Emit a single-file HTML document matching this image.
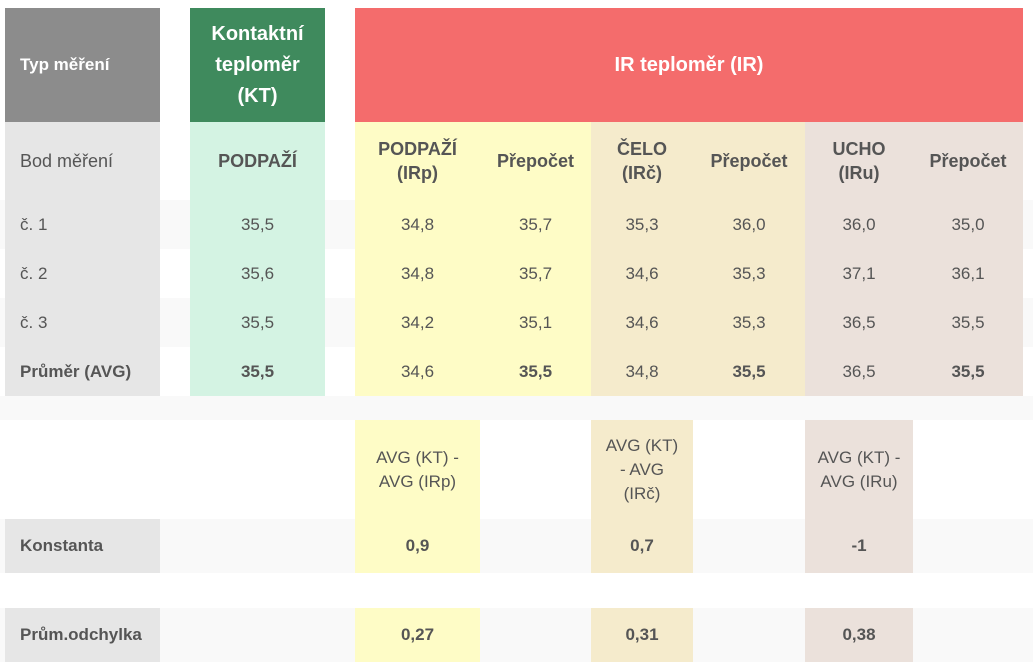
<!DOCTYPE html>
<html><head><meta charset="utf-8"><style>
body{margin:0;width:1033px;height:672px;background:#fff;font-family:"Liberation Sans",sans-serif;color:#555;position:relative;overflow:hidden}
div.c{position:absolute;display:flex;align-items:center;justify-content:center;text-align:center;font-size:17px;line-height:24px;box-sizing:border-box}
.b{font-weight:bold}
.l{justify-content:flex-start!important;text-align:left!important;padding-left:15px}
.s{position:absolute;left:0;width:1033px;background:#f9f9f9}
</style></head><body>
<div class="s" style="top:200px;height:49px"></div>
<div class="s" style="top:298px;height:49px"></div>
<div class="s" style="top:396px;height:24px"></div>
<div class="s" style="top:519px;height:54px"></div>
<div class="s" style="top:608px;height:54px"></div>

<div class="c b l" style="left:5px;top:8px;width:155px;height:114px;background:#8c8c8c;color:#fff;font-size:17px">Typ měření</div>
<div class="c b" style="left:190px;top:8px;width:135px;height:114px;background:#3f8a5d;color:#fff;font-size:20px;line-height:31px">Kontaktní<br>teploměr<br>(KT)</div>
<div class="c b" style="left:355px;top:8px;width:668px;height:114px;background:#f46c6c;color:#fff;font-size:20px">IR teploměr (IR)</div>

<div class="c" style="left:5px;top:122px;width:155px;height:274px;background:#e6e6e6"></div>
<div class="c" style="left:190px;top:122px;width:135px;height:274px;background:#d4f3e3"></div>
<div class="c" style="left:355px;top:122px;width:236px;height:274px;background:#fefcc6"></div>
<div class="c" style="left:591px;top:122px;width:214px;height:274px;background:#f5ebcc"></div>
<div class="c" style="left:805px;top:122px;width:218px;height:274px;background:#ebe1db"></div>

<div class="c l" style="left:5px;top:122px;width:155px;height:78px;font-size:18px">Bod měření</div>
<div class="c b" style="left:190px;top:122px;width:135px;height:78px;font-size:18px">PODPAŽÍ</div>
<div class="c b" style="left:355px;top:122px;width:125px;height:78px;font-size:18px">PODPAŽÍ<br>(IRp)</div>
<div class="c b" style="left:480px;top:122px;width:111px;height:78px;font-size:18px">Přepočet</div>
<div class="c b" style="left:591px;top:122px;width:102px;height:78px;font-size:18px">ČELO<br>(IRč)</div>
<div class="c b" style="left:693px;top:122px;width:112px;height:78px;font-size:18px">Přepočet</div>
<div class="c b" style="left:805px;top:122px;width:108px;height:78px;font-size:18px">UCHO<br>(IRu)</div>
<div class="c b" style="left:913px;top:122px;width:110px;height:78px;font-size:18px">Přepočet</div>

<div class="c l" style="left:5px;top:200px;width:155px;height:49px">č. 1</div>
<div class="c" style="left:190px;top:200px;width:135px;height:49px">35,5</div>
<div class="c" style="left:355px;top:200px;width:125px;height:49px">34,8</div>
<div class="c" style="left:480px;top:200px;width:111px;height:49px">35,7</div>
<div class="c" style="left:591px;top:200px;width:102px;height:49px">35,3</div>
<div class="c" style="left:693px;top:200px;width:112px;height:49px">36,0</div>
<div class="c" style="left:805px;top:200px;width:108px;height:49px">36,0</div>
<div class="c" style="left:913px;top:200px;width:110px;height:49px">35,0</div>

<div class="c l" style="left:5px;top:249px;width:155px;height:49px">č. 2</div>
<div class="c" style="left:190px;top:249px;width:135px;height:49px">35,6</div>
<div class="c" style="left:355px;top:249px;width:125px;height:49px">34,8</div>
<div class="c" style="left:480px;top:249px;width:111px;height:49px">35,7</div>
<div class="c" style="left:591px;top:249px;width:102px;height:49px">34,6</div>
<div class="c" style="left:693px;top:249px;width:112px;height:49px">35,3</div>
<div class="c" style="left:805px;top:249px;width:108px;height:49px">37,1</div>
<div class="c" style="left:913px;top:249px;width:110px;height:49px">36,1</div>

<div class="c l" style="left:5px;top:298px;width:155px;height:49px">č. 3</div>
<div class="c" style="left:190px;top:298px;width:135px;height:49px">35,5</div>
<div class="c" style="left:355px;top:298px;width:125px;height:49px">34,2</div>
<div class="c" style="left:480px;top:298px;width:111px;height:49px">35,1</div>
<div class="c" style="left:591px;top:298px;width:102px;height:49px">34,6</div>
<div class="c" style="left:693px;top:298px;width:112px;height:49px">35,3</div>
<div class="c" style="left:805px;top:298px;width:108px;height:49px">36,5</div>
<div class="c" style="left:913px;top:298px;width:110px;height:49px">35,5</div>

<div class="c l b" style="left:5px;top:347px;width:155px;height:49px">Průměr (AVG)</div>
<div class="c b" style="left:190px;top:347px;width:135px;height:49px">35,5</div>
<div class="c" style="left:355px;top:347px;width:125px;height:49px">34,6</div>
<div class="c b" style="left:480px;top:347px;width:111px;height:49px">35,5</div>
<div class="c" style="left:591px;top:347px;width:102px;height:49px">34,8</div>
<div class="c b" style="left:693px;top:347px;width:112px;height:49px">35,5</div>
<div class="c" style="left:805px;top:347px;width:108px;height:49px">36,5</div>
<div class="c b" style="left:913px;top:347px;width:110px;height:49px">35,5</div>

<div class="c" style="left:355px;top:420px;width:125px;height:153px;background:#fefcc6"></div>
<div class="c" style="left:591px;top:420px;width:102px;height:153px;background:#f5ebcc"></div>
<div class="c" style="left:805px;top:420px;width:108px;height:153px;background:#ebe1db"></div>
<div class="c" style="left:355px;top:420px;width:125px;height:99px">AVG (KT) -<br>AVG (IRp)</div>
<div class="c" style="left:591px;top:420px;width:102px;height:99px">AVG (KT)<br>- AVG<br>(IRč)</div>
<div class="c" style="left:805px;top:420px;width:108px;height:99px">AVG (KT) -<br>AVG (IRu)</div>

<div class="c l b" style="left:5px;top:519px;width:155px;height:54px;background:#e6e6e6">Konstanta</div>
<div class="c b" style="left:355px;top:519px;width:125px;height:54px">0,9</div>
<div class="c b" style="left:591px;top:519px;width:102px;height:54px">0,7</div>
<div class="c b" style="left:805px;top:519px;width:108px;height:54px">-1</div>

<div class="c l b" style="left:5px;top:608px;width:155px;height:54px;background:#e6e6e6">Prům.odchylka</div>
<div class="c b" style="left:355px;top:608px;width:125px;height:54px;background:#fefcc6">0,27</div>
<div class="c b" style="left:591px;top:608px;width:102px;height:54px;background:#f5ebcc">0,31</div>
<div class="c b" style="left:805px;top:608px;width:108px;height:54px;background:#ebe1db">0,38</div>
</body></html>
